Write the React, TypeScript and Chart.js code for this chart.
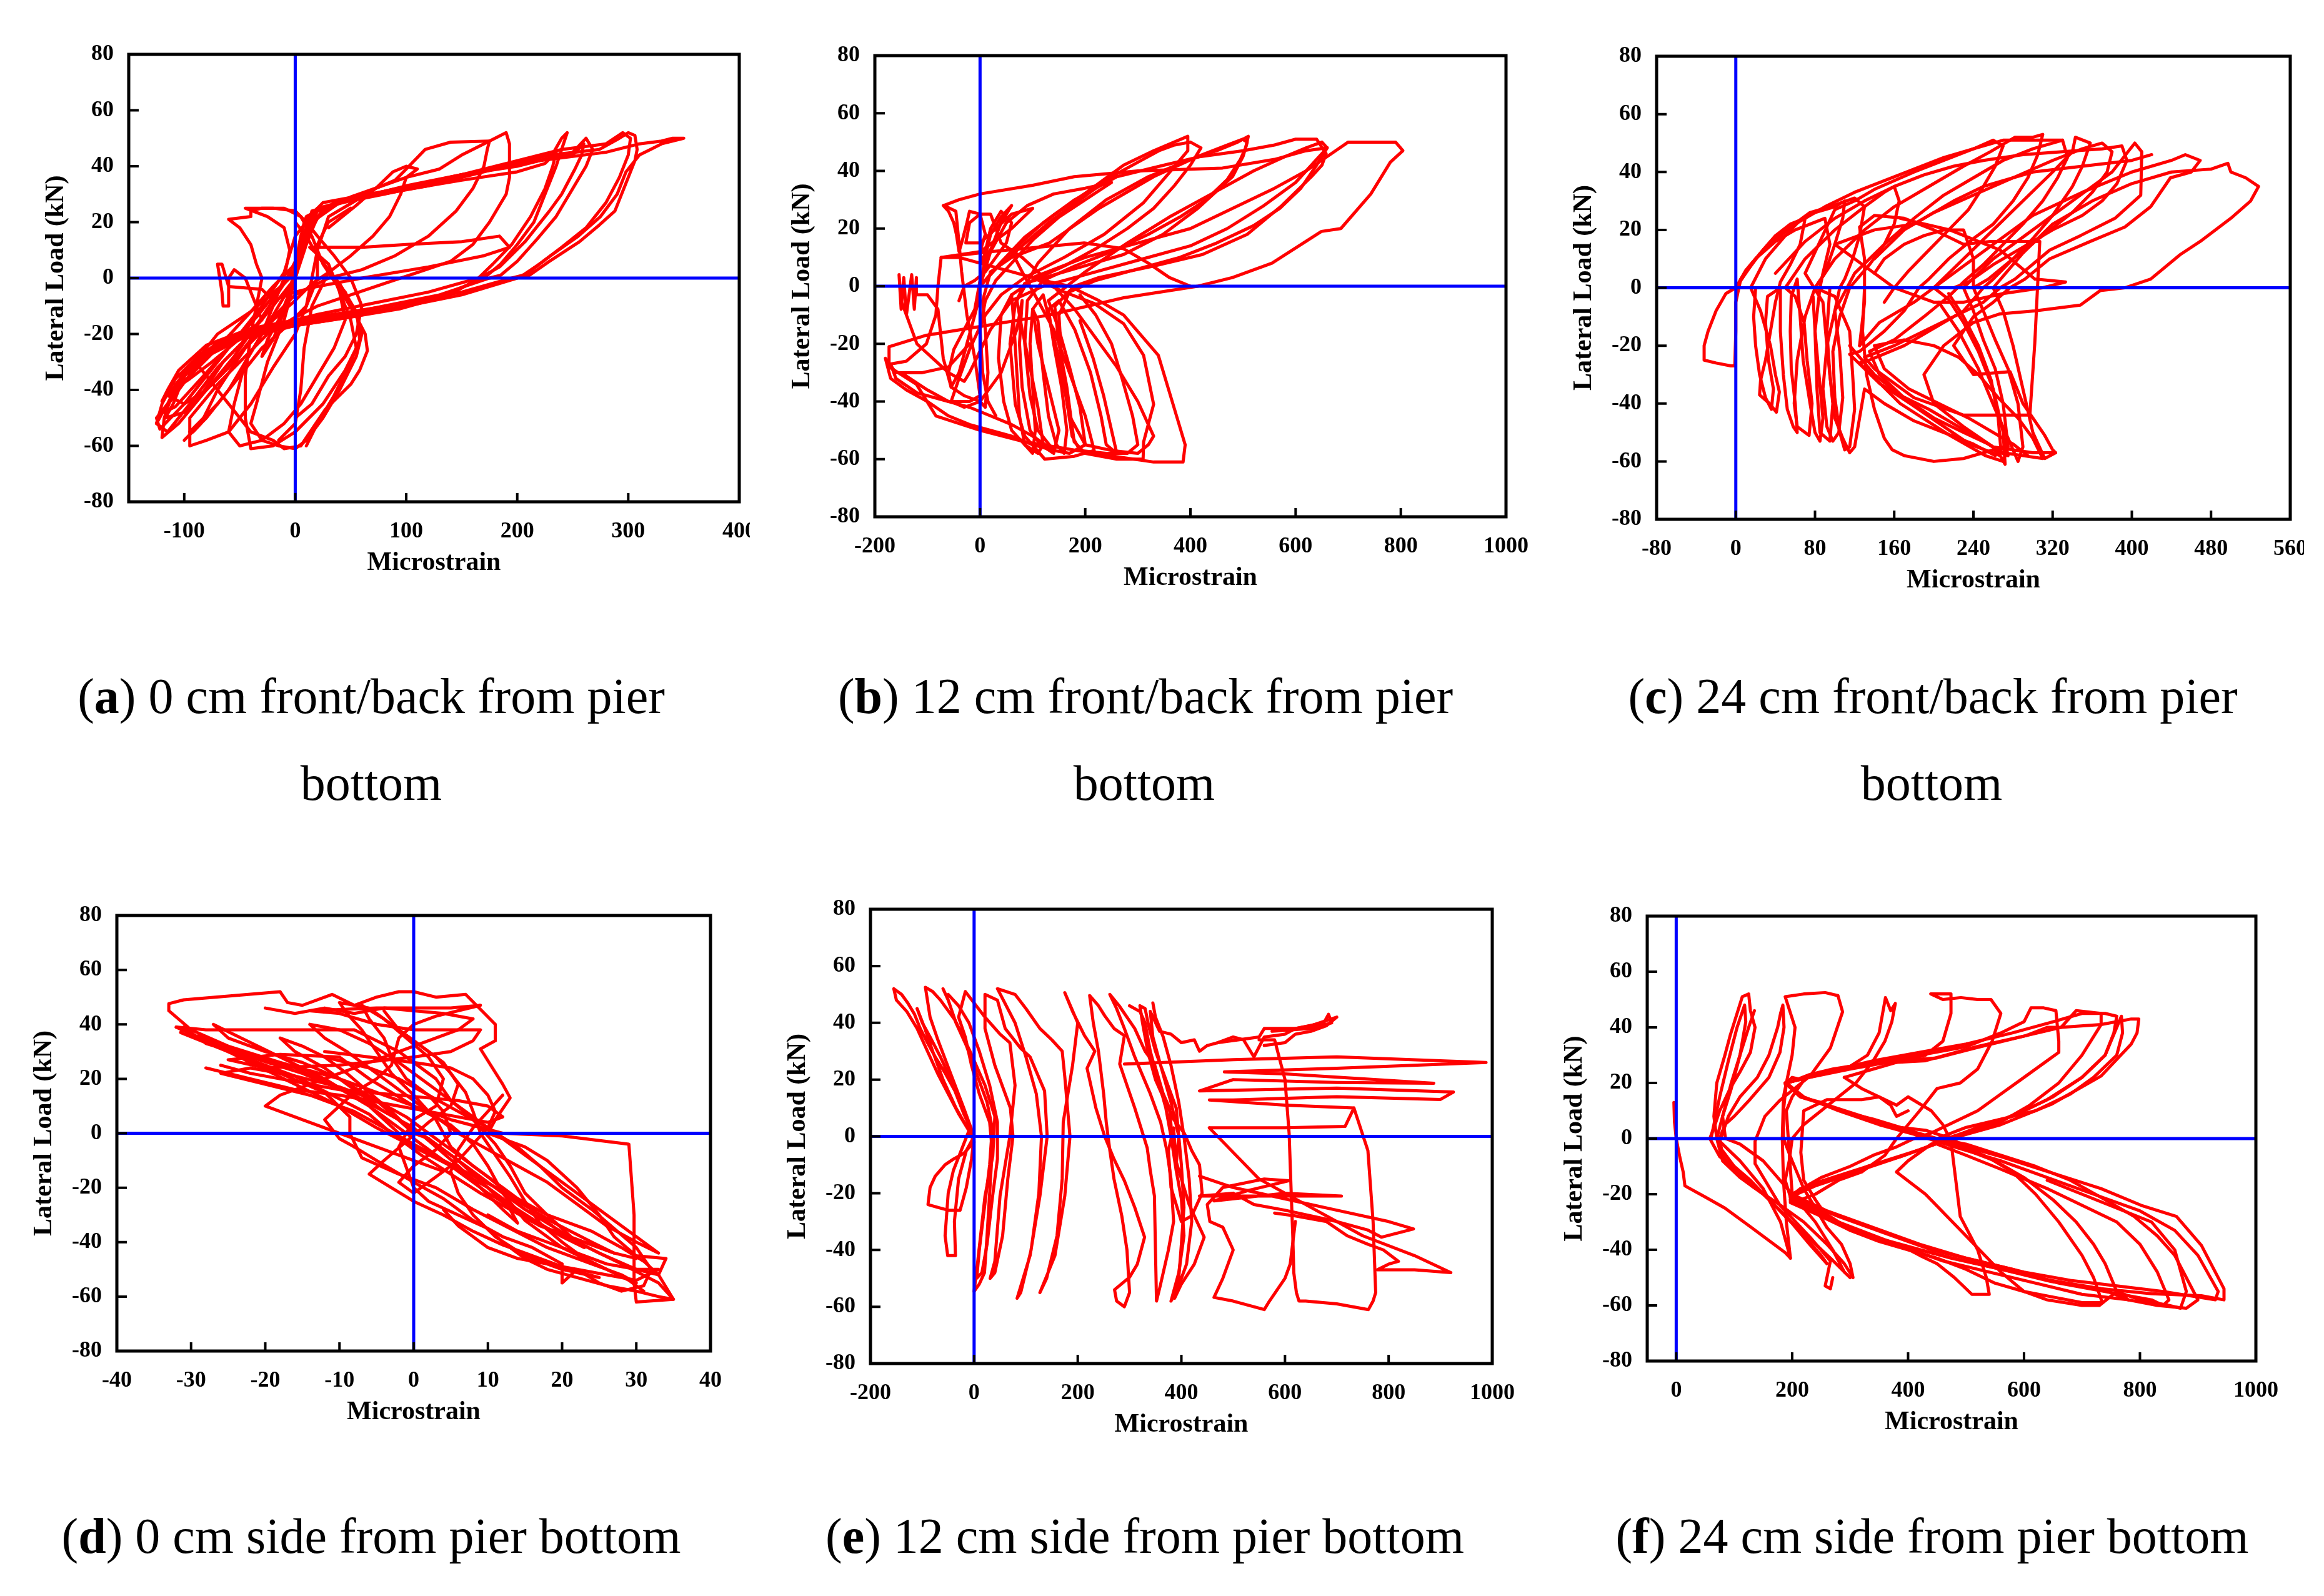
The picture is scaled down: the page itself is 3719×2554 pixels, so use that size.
import { useEffect, useRef } from "react";
import Chart from "chart.js/auto";

type Pt = [number, number];

const RED = "#FF0000";
const BLUE = "#0000FF";
const TICK_FONT = { family: "'Liberation Serif', 'Times New Roman', serif", size: 36, weight: "bold" as const };
const TITLE_FONT = { family: "'Liberation Serif', 'Times New Roman', serif", size: 42, weight: "bold" as const };

// tick labels
const Y_TICKS = [-80, -60, -40, -20, 0, 20, 40, 60, 80];
const X_TICKS_A = [-100, 0, 100, 200, 300, 400];
const X_TICKS_B = [-200, 0, 200, 400, 600, 800, 1000];
const X_TICKS_C = [-80, 0, 80, 160, 240, 320, 400, 480, 560];
const X_TICKS_D = [-40, -30, -20, -10, 0, 10, 20, 30, 40];
const X_TICKS_E = [-200, 0, 200, 400, 600, 800, 1000];
const X_TICKS_F = [0, 200, 400, 600, 800, 1000];

// (a) 0 cm front/back
const A_C1: Pt[] = [[0,0],[5,8],[10,15],[15,20],[20,24],[10,22],[5,15],[0,5],[-5,-5],[-15,-15],[-25,-22],[-30,-28],[-20,-22],[-10,-12],[0,0]];
const A_C2: Pt[] = [[0,0],[10,12],[20,22],[35,27],[60,30],[90,35],[100,39],[117,46],[140,48.6],[175,49],[173,46],[170,40],[160,32],[145,24],[120,15],[90,8],[60,3],[30,0],[0,-6],[-20,-14],[-40,-22],[-60,-32],[-80,-40],[-100,-45],[-115,-42],[-95,-35],[-70,-25],[-40,-12],[-20,-3],[0,5]];
const A_C3: Pt[] = [[0,5],[10,18],[20,24],[50,29],[100,36],[130,39],[150,44],[170,48],[190,52],[193,48],[193,36],[190,30],[175,20],[160,12],[140,6],[110,2],[80,-2],[50,-6],[20,-10],[0,-14],[-25,-20],[-50,-30],[-70,-38],[-95,-50],[-95,-60],[-80,-58],[-60,-55],[-40,-45],[-20,-32],[0,-20],[10,-10],[15,0],[20,10]];
const A_C4: Pt[] = [[20,10],[30,22],[60,29],[100,33],[150,37],[200,40],[230,43],[240,50],[245,52],[240,46],[235,40],[225,30],[215,20],[200,12],[185,5],[170,0],[140,-5],[100,-10],[50,-14],[0,-17],[-40,-20],[-85,-27],[-108,-36],[-120,-45],[-125,-52],[-115,-55],[-95,-45],[-70,-32],[-45,-22],[-20,-10],[0,0]];
const A_C5: Pt[] = [[0,0],[10,18],[30,26],[80,30],[150,36],[200,41],[250,44],[260,48],[258,44],[252,39],[240,30],[229,24],[207,13],[184,4],[166,0],[139,-6],[94,-11],[49,-14],[0,-17],[-41,-20],[-86,-28],[-108,-38],[-118,-50],[-120,-57],[-105,-52],[-80,-40],[-55,-28],[-30,-14],[-10,-2],[5,10]];
const A_C6: Pt[] = [[5,10],[15,24],[50,28],[120,33],[184,40],[230,44],[274,46],[292,50],[300,52],[306,51],[308,46],[306,42],[297,33],[288,24],[274,19],[256,13],[229,6],[211,1],[198,0],[150,-6],[100,-10],[50,-13],[0,-16],[-30,-19],[-70,-23],[-100,-33],[-115,-45],[-125,-50],[-122,-54],[-100,-45],[-60,-25],[-30,-10],[-10,2],[0,15],[20,25],[80,31],[150,37],[220,42],[280,45],[310,48],[330,49],[340,50],[350,50],[330,48],[320,46],[310,44],[298,38],[290,30],[275,22],[255,15],[230,8],[210,2],[200,0],[150,-6],[100,-10],[40,-14],[0,-17],[-50,-22],[-90,-30]];
const A_C7: Pt[] = [[-90,-30],[-60,-45],[-40,-55],[-20,-58],[-10,-61],[5,-60],[27,-47],[50,-38],[58,-33],[65,-26],[63,-20],[54,-13],[40,-4],[25,5],[15,15],[5,22],[-10,25],[-30,25],[-40,24],[-40,22],[-60,21],[-50,18],[-40,12],[-35,5],[-30,0],[-35,-10],[-40,-20],[-45,-35],[-45,-50],[-40,-61],[-20,-60],[0,-55],[25,-45],[45,-33],[55,-25],[50,-15],[40,-5],[30,5]];
const A_C8: Pt[] = [[30,5],[13,11],[60,11],[100,12],[150,13],[184,15],[193,11],[170,8],[120,4],[60,0],[20,-3],[0,-5],[-20,-8],[-30,-4],[-60,-3],[-66,5],[-70,5],[-66,-5],[-65,-10],[-60,-10],[-60,0],[-55,3],[-45,0],[-30,-15],[-60,-25],[-75,-30],[-95,-36],[-110,-40],[-116,-42],[-100,-35],[-70,-20],[-40,-12],[-10,-2],[0,2]];
const A_C9: Pt[] = [[0,0],[10,14],[25,25],[70,30],[130,35],[180,39],[220,42],[250,45],[262,50],[268,46],[262,40],[250,32],[235,22],[218,14],[200,6],[185,1],[175,0],[130,-6],[80,-10],[30,-14],[0,-16],[-35,-19],[-70,-24],[-95,-32],[-110,-42],[-118,-48],[-108,-46],[-85,-36],[-60,-25],[-35,-14],[-15,-4],[0,3]];
const A_C10: Pt[] = [[0,3],[8,20],[25,27],[80,31],[140,36],[200,42],[240,46],[280,48],[295,52],[302,50],[300,44],[292,36],[280,27],[262,18],[240,11],[220,5],[205,1],[195,0],[150,-5],[100,-9],[50,-12],[0,-15],[-40,-18],[-80,-24],[-105,-33],[-115,-40],[-120,-44],[-115,-40]];
const A_C11: Pt[] = [[30,18],[55,26],[75,33],[88,38],[100,40],[110,39],[100,36],[95,30],[85,22],[70,15],[50,8],[30,2],[15,-2],[0,-8],[-20,-15],[-45,-25],[-70,-40],[-85,-52],[-92,-55]];
const A_C12: Pt[] = [[-100,-58],[-80,-50],[-60,-40],[-45,-30],[-30,-20],[-15,-10],[0,0],[-10,-15],[-25,-30],[-35,-45],[-40,-52],[-30,-58],[-15,-60],[0,-61],[10,-58],[25,-50],[40,-40],[55,-28],[60,-20],[55,-12],[40,-2],[20,8],[10,15],[0,20]];
const A_C13: Pt[] = [[0,-50],[15,-45],[30,-35],[45,-28],[55,-20],[60,-10],[50,0],[35,8],[20,15],[10,20],[0,24],[-20,25],[-45,25],[-25,22],[-10,18],[-5,10],[-10,0],[-20,-10],[-30,-20],[-45,-30],[-55,-45],[-60,-55],[-50,-60],[-30,-58],[-10,-52],[5,-45],[20,-35],[35,-25],[45,-15],[40,-5]];
const A_C14: Pt[] = [[-125,-52],[-118,-47],[-105,-40],[-90,-32],[-70,-25],[-55,-21],[-40,-18],[-60,-22],[-80,-28],[-100,-35],[-110,-45],[-117,-50],[-100,-48],[-85,-42],[-65,-30],[-45,-22]];
const A_C15: Pt[] = [[0,0],[15,20],[40,27],[90,31],[150,35],[200,38],[225,41],[235,45],[232,40],[225,32],[212,22],[195,12],[178,5],[165,0],[120,-5],[70,-9],[20,-13],[-10,-16],[-50,-20],[-90,-28]];
const A_C16: Pt[] = [[-95,-55],[-70,-45],[-50,-35],[-30,-25],[-10,-18],[10,-10],[20,0],[20,12],[30,20],[50,25]];
const A_C17: Pt[] = [[10,-60],[20,-52],[35,-42],[50,-30],[58,-22],[56,-14],[45,-5],[30,2],[15,-10],[8,-25],[5,-40],[0,-52],[-15,-58]];

// (b) 12 cm front/back
const B_C1: Pt[] = [[0,0],[38,8],[85,17],[142,25],[198,32],[273,42],[330,47],[395,52],[395,47],[358,39],[311,29],[236,18],[160,10],[85,3],[40,-3],[10,-10],[-20,-22],[-40,-32],[-55,-40],[-30,-42],[0,-40],[10,-42],[15,-30],[10,-15],[5,-5],[20,5]];
const B_C2: Pt[] = [[20,5],[60,10],[132,15],[226,27],[330,38],[414,45],[470,49],[499,51],[508,50],[500,45],[480,38],[414,27],[348,18],[273,11],[179,6],[85,1],[67,-6],[57,-20],[67,-41],[85,-52],[123,-60],[179,-59],[217,-57],[200,-45],[170,-30],[140,-15],[110,-5],[80,5],[60,12]];
const B_C3: Pt[] = [[60,12],[120,22],[180,30],[260,38],[350,42],[420,45],[500,47],[560,49],[600,51],[640,51],[658,46],[650,42],[630,38],[574,28],[508,18],[423,11],[330,7],[226,3],[179,0],[142,-7],[150,-20],[165,-35],[179,-54],[200,-58],[260,-60],[310,-60],[311,-54],[330,-41],[311,-24],[273,-13],[217,-6],[160,-2],[100,3]];
const B_C4: Pt[] = [[100,3],[200,10],[300,15],[400,20],[480,27],[560,34],[620,40],[660,45],[700,50],[750,50],[790,50],[804,47],[780,43],[743,32],[686,20],[649,19],[555,8],[480,3],[414,0],[273,-4],[132,-10],[0,-14],[-102,-17],[-173,-21],[-173,-28],[-121,-34],[-84,-45],[0,-50],[85,-54],[217,-58],[330,-61],[386,-61],[390,-55],[367,-41],[339,-24],[273,-10],[226,-5],[170,0]];
const B_C5: Pt[] = [[170,0],[120,2],[60,5],[0,8],[-40,10],[-74,10],[-80,0],[-84,-10],[-102,-20],[-140,-26],[-170,-27],[-160,-32],[-120,-37],[-60,-40],[-20,-40],[0,-38],[-10,-25],[-25,-10],[-35,5],[-40,15],[-46,26],[-69,28],[-40,30],[0,32],[100,35],[179,38],[300,40],[461,41],[560,44],[620,47],[660,48]];
const B_C6: Pt[] = [[660,48],[640,44],[600,36],[540,28],[470,20],[400,14],[300,9],[200,4],[120,0],[60,-5],[20,-15],[-20,-30],[-30,-33],[-60,-30],[-90,-25],[-120,-20],[-140,-10],[-150,-5],[-154,4],[-150,-8],[-145,3],[-140,-10],[-130,4],[-125,-8],[-121,3],[-121,-3],[-100,-3],[-80,-8],[-70,-25],[-55,-35],[-30,-38],[0,-40]];
const B_C7: Pt[] = [[0,-40],[40,-30],[70,-15],[80,-5],[75,-20],[80,-35],[95,-50],[115,-55],[140,-58],[150,-50],[130,-35],[110,-20],[100,-8],[120,-3],[150,-25],[170,-45],[200,-55],[250,-57],[300,-58],[320,-55],[330,-52],[300,-40],[260,-28],[220,-18],[180,-8],[140,0],[80,10],[40,15],[20,25],[0,25],[-20,22],[-27,15],[0,15],[30,20],[60,25],[100,27]];
const B_C8: Pt[] = [[100,27],[60,20],[0,12],[-74,10],[20,12],[198,15],[273,13],[320,8],[360,3],[400,0]];
const B_C9: Pt[] = [[0,0],[30,6],[80,14],[130,22],[190,30],[250,38],[300,43],[340,47],[370,49],[400,50],[420,48],[400,42],[370,35],[330,27],[280,20],[220,13],[160,7],[100,2],[60,-3],[40,-10],[35,-25],[45,-40],[60,-50],[85,-55],[110,-58],[120,-55],[110,-42],[95,-28],[80,-15],[70,-5]];
const B_C10: Pt[] = [[70,-5],[110,8],[170,20],[240,30],[320,38],[400,44],[450,47],[490,50],[510,52],[505,48],[495,44],[470,37],[430,30],[380,24],[320,18],[250,12],[180,7],[120,2],[90,-5],[85,-20],[95,-38],[110,-50],[140,-57],[170,-58],[200,-55],[190,-42],[170,-28],[150,-15],[130,-5]];
const B_C11: Pt[] = [[130,-5],[200,5],[280,15],[360,24],[440,32],[520,40],[580,45],[620,48],[650,50],[660,48],[640,42],[610,34],[570,27],[520,21],[450,15],[380,10],[300,6],[220,2],[170,-2],[150,-10],[155,-25],[165,-40],[175,-52],[190,-57],[240,-58],[280,-58],[300,-55],[290,-45],[270,-32],[250,-20],[220,-10],[190,-3]];
const B_C12: Pt[] = [[0,0],[10,10],[20,18],[40,24],[60,28],[40,22],[25,15],[10,8],[0,2],[-10,-8],[-30,-15],[-50,-22],[-60,-30],[-55,-35],[-40,-30],[-25,-20],[-10,-10],[0,-3]];
const B_C13: Pt[] = [[60,-3],[65,-15],[70,-30],[75,-45],[85,-55],[100,-58],[105,-50],[100,-35],[95,-20],[100,-8],[110,-12],[120,-30],[130,-45],[145,-55],[160,-58],[165,-50],[155,-35],[140,-20],[130,-8],[150,-5],[180,-15],[210,-30],[230,-45],[240,-55],[260,-58],[250,-50],[235,-38],[215,-25],[190,-12]];
const B_C14: Pt[] = [[-20,-20],[-60,-28],[-110,-30],[-160,-30],[-180,-25],[-170,-32],[-140,-36],[-100,-40],[-60,-45],[-20,-48],[20,-50],[60,-52],[100,-55],[140,-57],[100,-52],[60,-48],[20,-45],[-20,-42],[-60,-40],[-100,-36],[-150,-30]];
const B_C15: Pt[] = [[-70,28],[-60,26],[-50,22],[-45,18],[-40,12],[-35,15],[-25,22],[-20,26],[0,25],[10,18],[0,12],[5,8],[20,20],[40,26],[60,22],[50,15],[30,10],[10,5],[-10,2],[-30,0],[-40,-5]];
const B_C16: Pt[] = [[0,0],[20,12],[50,22],[90,28],[140,32],[200,34],[250,36],[200,30],[150,24],[100,16],[60,8],[30,2],[10,-5],[0,-15],[5,-30],[15,-40],[30,-45]];

// (c) 24 cm front/back
const C_C1: Pt[] = [[0,0],[-10,-2],[-20,-8],[-28,-15],[-32,-20],[-32,-25],[-20,-26],[-5,-27],[-1,-27],[0,-15],[0,-5],[5,3],[14,7],[25,12],[40,18],[55,22],[70,24],[65,15],[55,8],[45,2],[40,-5],[35,-15],[30,-25],[25,-32],[24,-37],[34,-40],[41,-43],[44,-36],[40,-30],[35,-20],[25,-8],[15,0]];
const C_C2: Pt[] = [[15,0],[30,10],[50,18],[64,23],[80,26],[100,28],[110,30],[108,24],[100,15],[90,5],[80,0],[70,-10],[62,-25],[59,-40],[62,-48],[74,-51],[77,-40],[72,-25],[69,-12],[60,-3],[50,0]];
const C_C3: Pt[] = [[50,0],[70,10],[100,20],[130,28],[150,33],[160,35],[165,30],[160,22],[150,15],[135,8],[115,0],[105,-10],[98,-22],[100,-38],[105,-50],[110,-56],[115,-55],[120,-42],[118,-30],[115,-15],[100,-3],[80,0]];
const C_C4: Pt[] = [[80,0],[100,10],[130,20],[160,28],[200,36],[230,42],[257,47],[282,52],[300,52],[310,53],[305,46],[295,38],[280,30],[260,22],[240,17],[215,10],[195,3],[185,0],[170,-8],[150,-15],[125,-22],[115,-23],[145,-33],[176,-40],[206,-47],[236,-54],[267,-58],[272,-61],[270,-50],[260,-35],[245,-22],[230,-12],[215,-4],[200,0]];
const C_C5: Pt[] = [[200,0],[230,10],[260,20],[290,30],[320,40],[340,47],[343,52],[358,50],[350,42],[340,35],[320,25],[300,17],[280,10],[260,3],[250,0],[230,-8],[200,-14],[170,-20],[135,-25],[125,-26],[166,-40],[216,-51],[252,-58],[270,-60],[275,-55],[270,-40],[262,-28],[250,-18],[240,-8],[230,0]];
const C_C6: Pt[] = [[230,0],[260,10],[300,20],[340,30],[380,40],[403,50],[410,47],[409,32],[383,24],[348,18],[317,13],[282,3],[267,0],[250,-5],[220,-10],[190,-15],[160,-20],[130,-24],[140,-28],[180,-38],[230,-44],[297,-44],[302,-19],[307,16],[257,16],[230,15],[200,20],[170,24],[140,25],[125,21],[130,10],[130,-5],[125,-20]];
const C_C7: Pt[] = [[125,-20],[145,-12],[180,-5],[220,5],[260,15],[300,25],[350,33],[400,40],[440,44],[454,46],[469,44],[460,40],[439,38],[419,28],[393,21],[358,16],[317,10],[292,3],[277,0],[260,-5],[240,-10],[220,-20],[240,-30],[277,-29],[290,-40],[312,-51],[320,-56],[323,-57],[312,-59],[300,-50],[290,-35],[280,-20],[270,-8],[260,0]];
const C_C8: Pt[] = [[260,0],[290,12],[320,22],[360,30],[400,36],[440,40],[480,41],[497,43],[500,40],[515,38],[528,35],[520,30],[500,24],[469,16],[449,11.5],[419,3],[393,0],[368,-1],[348,-6],[302,-8],[267,-9],[240,-12],[210,-20],[190,-30],[200,-40],[230,-48],[260,-55],[300,-57],[323,-57]];
const C_C9: Pt[] = [[166,24],[216,20],[267,13],[302,3],[333,2],[310,0],[270,-2],[230,-5],[200,-5],[160,0],[140,5],[120,10],[100,15],[140,20],[180,22],[200,26],[220,30],[250,35],[300,40],[350,42],[400,44],[420,46]];
const C_C10: Pt[] = [[0,0],[20,10],[40,16],[60,20],[90,24],[95,15],[88,5],[85,0],[80,-15],[82,-35],[85,-50],[95,-53],[98,-40],[92,-20],[88,-5],[70,5],[100,27],[120,30],[140,34],[180,40],[210,44],[240,48],[270,51],[300,51],[330,51]];
const C_C11: Pt[] = [[0,0],[15,8],[35,16],[55,21],[75,26],[95,28],[120,31],[130,28],[125,18],[118,10],[110,3],[105,0],[100,-8],[92,-20],[88,-35],[92,-48],[98,-53],[104,-50],[108,-38],[105,-22],[100,-8]];
const C_C12: Pt[] = [[100,-8],[120,5],[150,15],[180,24],[210,32],[240,38],[270,44],[300,48],[330,51],[335,45],[325,38],[310,30],[290,22],[270,15],[250,8],[230,2],[215,-3],[190,-10],[160,-18],[135,-22],[145,-30],[170,-38],[200,-45],[230,-50],[255,-54],[268,-57],[265,-45],[258,-32],[245,-20],[230,-10],[215,-2]];
const C_C13: Pt[] = [[115,-20],[140,-30],[165,-37],[195,-42],[225,-48],[250,-53],[270,-57],[290,-58],[310,-59],[300,-52],[285,-45],[265,-38],[245,-30],[225,-24],[200,-20],[170,-18],[140,-20],[150,-28],[175,-35],[205,-40],[235,-45],[260,-50],[280,-54],[295,-58]];
const C_C14: Pt[] = [[20,0],[18,-10],[20,-20],[24,-30],[30,-38],[36,-42],[38,-35],[33,-25],[30,-12],[32,-3],[45,0],[45,-15],[48,-30],[52,-42],[58,-48],[62,-50],[60,-40],[56,-28],[55,-15],[56,-3],[62,3],[65,-10],[68,-25],[75,-40],[80,-50],[85,-53],[88,-45],[84,-30],[80,-15],[78,-3]];
const C_C15: Pt[] = [[0,0],[10,6],[30,14],[60,22],[90,28],[120,33],[150,37],[180,41],[210,45],[240,48],[260,51],[270,49],[262,42],[250,35],[235,27],[215,20],[195,13],[175,6],[160,0],[150,-5]];
const C_C16: Pt[] = [[40,5],[70,16],[100,24],[130,30],[160,35],[190,39],[220,42],[250,44],[290,46],[330,47],[370,48],[390,49],[395,44],[385,36],[370,30],[350,25],[320,20],[290,14],[260,8],[235,2],[220,0]];
const C_C17: Pt[] = [[205,-5],[225,-15],[245,-28],[262,-42],[275,-52],[285,-60],[290,-55],[285,-40],[275,-28],[262,-18],[250,-8],[240,0],[240,10],[230,20],[210,20],[190,18],[170,15],[150,10],[140,5]];
const C_C18: Pt[] = [[130,0],[128,-15],[132,-30],[140,-42],[150,-52],[158,-56],[170,-58],[200,-60],[230,-59],[260,-56],[275,-58],[270,-50]];
const C_C19: Pt[] = [[140,10],[170,20],[200,26],[240,32],[280,38],[320,44],[350,48],[370,50],[380,47],[375,40],[360,33],[340,26],[310,18],[280,10],[255,3],[240,0]];
const C_C20: Pt[] = [[95,0],[92,-15],[95,-30],[100,-45],[108,-52],[115,-57],[120,-55],[125,-45],[130,-35],[150,-40],[180,-46],[210,-50],[240,-54],[262,-58],[270,-55]];

// (d) 0 cm side
const D_C1: Pt[] = [[0,0],[-3,8],[-6,15],[-9,22],[-12,28],[-15,32],[-18,35],[-16,30],[-12,24],[-8,16],[-4,8],[0,2],[3,-5],[6,-12],[9,-20],[12,-28],[14,-33],[13,-28],[10,-20],[6,-10],[2,-2],[0,0]];
const D_C2: Pt[] = [[0,0],[-5,12],[-10,20],[-15,26],[-20,30],[-25,35],[-27,40],[-24,36],[-18,28],[-12,20],[-6,10],[-2,2],[2,-6],[6,-14],[10,-22],[15,-30],[20,-38],[23,-42],[21,-38],[15,-28],[10,-18],[5,-8],[2,-2]];
const D_C3: Pt[] = [[2,-2],[-2,5],[-8,14],[-15,22],[-22,28],[-28,33],[-31,39],[-31.4,37],[-25,30],[-18,22],[-12,15],[-8.6,6],[-8.6,0],[-7,-9],[-2,-15],[3,-20],[8,-28],[13,-35],[18,-42],[24,-48],[28,-52],[30,-55],[26,-50],[20,-42],[15,-32],[12,-22],[10,-12],[8,-4],[5,3]];
const D_C4: Pt[] = [[5,3],[0,10],[-5,15],[-10,20],[-18,26],[-25,32],[-30,38],[-33,45],[-33,47.6],[-31,49],[-18,52],[-17,48],[-15,47],[-11,51],[-8,47],[-5,50],[-2,52],[0,52],[3,50],[7,51],[11,40],[11,34],[9,31],[12,18],[13,13],[11,5],[10,0]];
const D_C5: Pt[] = [[10,0],[15,-5],[18,-10],[22,-20],[25,-30],[27,-38],[30,-45],[34,-46],[33,-52],[35,-61],[30,-62],[29.7,-55],[29.7,-30],[29,-4],[20,-1],[12,0],[5,5],[0,10],[-3,15],[-6,20],[-10,28]];
const D_C6: Pt[] = [[-10,28],[-18,29],[-25,27],[-20,24],[-10,25],[0,28],[5,30],[8,34],[9,38],[0,38],[-5,40],[-10,44],[-14,45],[-5,46],[5,46],[9,47],[3,43],[0,40],[-2,35],[-3,25],[-5,20],[-8,15],[-10,10],[-12,5],[-10,-2],[-8,-5]];
const D_C7: Pt[] = [[-8,-5],[-5,-10],[0,-18],[4,-24],[8,-32],[12,-38],[16,-42],[20,-48],[20,-55],[22,-50],[25,-55],[28,-58],[31,-56],[32,-50],[30,-42],[27,-35],[24,-28],[20,-20],[17,-12],[14,-5],[10,2],[6,8],[2,14],[-1,20],[-3,28],[-4,35],[-6,42],[-7,47]];
const D_C8: Pt[] = [[-7,47],[-4,42],[-1,35],[2,28],[4,20],[3,10],[0,5],[-2,-5],[0,-20],[2,-25],[6,-30],[10,-35],[12,-40],[15,-46],[18,-50],[22,-53],[26,-56],[30,-58],[33,-60],[35,-61],[33,-55],[28,-48],[22,-40],[18,-30],[15,-22],[13,-12],[11,-4],[8,5],[5,12],[3,20],[-2,30],[-8,38],[-20,38],[-28,38],[-32,39]];
const D_C9: Pt[] = [[-32,39],[-28,34],[-22,26],[-16,18],[-10,10],[-5,2],[0,-5],[5,-12],[10,-20],[14,-28],[18,-35],[23,-40],[27,-44],[30,-46]];
const D_C10: Pt[] = [[-2,0],[-6,10],[-11,18],[-16,24],[-21,28],[-26,32],[-29,36],[-27,33],[-22,27],[-16,21],[-11,14],[-6,7],[-3,0],[1,-8],[5,-15],[9,-22],[13,-28],[17,-34],[21,-38],[25,-42],[27,-44],[24,-40],[19,-33],[14,-25],[10,-16],[6,-8],[2,0]];
const D_C11: Pt[] = [[2,0],[-1,6],[-5,12],[-10,17],[-16,21],[-22,24],[-26,22],[-20,18],[-14,14],[-8,8],[-4,2],[0,-4],[4,-10],[9,-17],[14,-24],[18,-30],[24,-36],[28,-42],[31,-47],[33,-52],[30,-50],[25,-44],[20,-37],[16,-28],[12,-20],[8,-12],[5,-5]];
const D_C12: Pt[] = [[5,-5],[3,5],[0,14],[-3,22],[-5,30],[-7,38],[-9,44],[-10,48],[-6,46],[-3,40],[0,34],[3,28],[5,22],[7,15],[8,8],[9,0],[11,-8],[13,-16],[15,-25],[17,-33],[20,-40],[23,-46],[26,-50],[29,-54],[31,-58]];
const D_C13: Pt[] = [[-4,45],[-2,38],[1,32],[4,26],[6,18],[5,10],[2,4],[-1,-3],[-4,-10],[-6,-15],[-3,-20],[0,-25],[4,-30],[8,-36],[12,-41],[17,-46],[21,-50],[25,-53],[20,-50],[15,-45],[11,-38],[8,-30],[6,-22],[5,-14],[6,-6],[8,2],[10,8],[12,14]];
const D_C14: Pt[] = [[-14,40],[-12,35],[-9,30],[-6,24],[-3,18],[0,12],[3,6],[6,0],[10,-6],[14,-12],[18,-18],[22,-26],[26,-34],[30,-40],[33,-44],[30,-38],[26,-30],[22,-22],[18,-14],[14,-6],[10,2],[6,10],[2,18],[-2,26],[-6,33],[-10,38],[-14,40]];
const D_C15: Pt[] = [[-26,25],[-22,22],[-18,20],[-14,18],[-10,16],[-6,15],[-2,14],[2,13],[6,12],[10,10],[12,6],[10,4],[6,6],[2,8],[-2,10],[-6,12],[-10,14],[-16,16],[-22,20],[-28,24]];
const D_C16: Pt[] = [[-12,30],[-6,28],[0,26],[5,24],[8,20],[10,14],[11,8],[10,2],[8,-4],[6,-10],[3,-16],[0,-22],[-2,-18],[0,-12],[3,-6],[5,0],[4,8],[2,14],[-2,20],[-6,24],[-12,28]];
const D_C17: Pt[] = [[-20,46],[-16,44],[-12,46],[-8,44],[-4,46],[0,45],[4,44],[8,42],[6,38],[2,34],[-2,30],[-6,26],[-10,22],[-14,18],[-18,14],[-20,10],[-16,6],[-12,2],[-8,-2],[-4,-6],[0,-10],[4,-14]];
const D_C18: Pt[] = [[10,-30],[14,-36],[18,-40],[22,-44],[26,-48],[30,-50],[33,-50],[30,-54],[26,-52],[22,-50],[18,-48],[14,-46],[10,-42],[8,-38],[6,-34],[4,-28]];

// (e) 12 cm side
const E_C1: Pt[] = [[0,0],[-20,8],[-37,16],[-55,22],[-75,28],[-90,33],[-104,38],[-115,43],[-128,47],[-140,50],[-155,52],[-150,48],[-130,44],[-110,38],[-90,30],[-70,22],[-50,15],[-30,8],[-10,2],[0,-2],[-20,-6],[-40,-8],[-56,-10],[-75,-14],[-85,-18],[-89,-24],[-70,-25],[-50,-26],[-27,-26],[-15,-18],[-5,-8],[0,0],[-10,4],[-25,12],[-45,20],[-65,28],[-85,35],[-100,40],[-110,45],[-95,38],[-80,30],[-60,20],[-35,10],[-10,2],[-25,-5],[-40,-12],[-50,-20],[-56,-35],[-51,-42],[-36,-42],[-38,-30],[-30,-15],[-15,-5],[0,0]];
const E_C2: Pt[] = [[0,0],[-20,10],[-45,22],[-70,34],[-85,42],[-94,52.5],[-80,51],[-65,48],[-37,41],[-8,30],[21,18],[40,7],[36,-7],[21,-21],[7,-44],[0,-54.6],[10,-52],[20,-48],[25,-35],[30,-20],[35,-5],[30,5],[10,15],[-5,25],[-17,35],[-30,42],[-17,51],[0,47],[21,42],[50,36],[69,33],[79,18],[69,0],[50,-21],[40,-44],[31,-50],[40,-48],[55,-35],[65,-15],[75,0],[70,10],[40,25],[21,38],[21,50],[45,48],[60,38],[90,31],[108,28],[136,16],[141,0],[127,-21],[108,-42],[83,-57],[90,-55],[110,-40],[125,-20],[130,0],[120,15],[100,28],[79,40],[45,52],[79,50],[100,45],[127,38],[150,34],[170,30],[175,21],[185,0],[175,-21],[156,-42],[127,-55],[140,-50],[160,-35],[170,-15],[172,5]];
const E_C3: Pt[] = [[172,5],[190,25],[200,40],[175,50.6],[190,44],[213,35.5],[233,30],[218,24],[235,10],[252,0],[270,-8],[290,-15.6],[310,-25],[329,-35.5],[315,-45],[300,-49.6],[271,-54],[275,-58],[290,-60],[300,-55],[295,-40],[285,-28],[270,-15],[262,-5],[255,5],[250,15],[240,30],[230,40],[223,49.6],[240,46],[252,42.5],[270,38],[290,35.5],[281,25.5],[295,18],[310,10],[322,3],[334,-4],[340,-12],[348,-21],[350,-40],[352,-58],[360,-52],[375,-40],[385,-30],[380,-15],[372,-5],[360,5],[340,15],[310,28],[290,38],[275,45],[262,50],[280,46],[310,38],[330,30],[348,25.5],[365,15],[377,10],[382,0],[387,-7],[400,-15],[415,-24],[430,-30],[444,-35.5],[425,-45],[400,-52],[387,-57],[395,-50],[400,-38],[405,-25],[400,-10],[395,0],[390,10]];
const E_C4: Pt[] = [[390,10],[370,20],[350,30],[338,38],[330,45],[320,46],[325,40],[335,30],[338,28],[350,20],[367,13],[385,6],[406,1],[420,-5],[435,-10],[440,-20],[420,-28],[400,-30],[380,-18],[375,-5],[385,3],[390,-10],[395,0],[380,12],[360,25],[345,35],[340,44],[358,37],[380,36],[400,33],[425,34],[435,30],[450,32],[470,33],[550,35],[560,38],[620,38],[675,40],[684,43],[690,40],[650,38],[575,37]];
const E_C5: Pt[] = [[290,25.5],[500,27],[700,28],[988,26],[700,24],[483,22.7],[600,22],[887,18.7],[700,19],[500,20],[435,16],[700,17],[925,15.6],[900,13],[700,14],[500,12.8],[454,12.8],[600,11],[733,10],[716,3.5],[600,3],[454,3]];
const E_C6: Pt[] = [[550,34],[580,34],[600,20],[608,1],[612,-20],[615,-35],[617,-48],[622,-55],[627,-58],[640,-58],[700,-59],[761,-61],[770,-58],[775,-55],[770,-30],[760,-5],[733,10]];
const E_C7: Pt[] = [[454,3],[550,-15],[650,-25],[750,-35],[850,-42],[920,-48],[850,-47],[778,-47],[800,-45],[819,-44],[790,-40],[760,-38],[720,-35],[680,-30],[620,-28],[580,-27]];
const E_C8: Pt[] = [[435,-14],[500,-18],[600,-22],[700,-26],[800,-30],[848,-32.6],[786,-35.5],[760,-33],[700,-30],[650,-28],[600,-26],[540,-24],[500,-20],[435,-21],[600,-21],[709,-21],[600,-20],[463,-22.7],[530,-19],[608,-15.6],[560,-15],[480,-18],[450,-24],[455,-30],[480,-32],[500,-40],[480,-50],[463,-56.7],[500,-58],[560,-61],[570,-58],[600,-50],[610,-45],[620,-30]];
const E_C9: Pt[] = [[-60,52],[-50,48],[-35,40],[-15,32],[5,22],[25,12],[35,3],[30,-10],[20,-25],[10,-40],[5,-50],[15,-48],[25,-38],[35,-22],[45,-8],[45,5],[30,18],[10,30],[-10,40],[-30,46],[-50,50]];
const E_C10: Pt[] = [[300,46],[320,44],[330,40],[340,30],[355,20],[370,10],[380,0],[390,-12],[400,-22],[405,-35],[395,-48],[380,-58],[390,-55],[410,-45],[420,-30],[415,-15],[405,0],[395,12],[380,25],[365,35],[350,42],[345,47]];
const E_C11: Pt[] = [[470,33],[500,35],[520,34],[540,28],[560,35],[600,36],[620,38],[650,39],[700,42],[680,39],[650,37],[620,36],[600,33],[560,32]];

// (f) 24 cm side
const F_C1: Pt[] = [[-4,13],[-3,6],[0,0],[6,-6.5],[12,-12],[15,-17],[50,-21],[84,-25],[130,-32],[188,-41],[197,-43],[180,-30],[150,-18],[110,-8],[80,-2],[70,0],[65,8],[70,20],[84,30],[93,37],[105,45],[114,51],[125,52],[128,46],[136,40],[128,31],[110,24],[93,18],[75,10],[67,5],[58,0],[75,-6.5],[100,-10],[128,-15],[160,-22],[188,-28],[230,-36],[266,-43],[290,-48],[300,-50],[290,-48],[270,-40],[240,-30],[200,-20],[150,-8],[110,-2],[85,0],[80,8],[95,20],[110,30],[125,40],[135,46]];
const F_C2: Pt[] = [[75,-1],[90,8],[110,15],[140,22],[160,30],[175,40],[180,45],[184,48],[186,40],[182,35],[179,31],[160,22],[127,14],[100,8],[84,5],[75,0],[80,-6],[93,-10],[130,-17],[180,-24],[220,-30],[260,-38],[290,-45],[305,-50],[300,-45],[285,-38],[260,-32],[240,-25],[220,-18],[200,-8],[185,0],[185,10],[190,20],[200,30],[205,40],[188,51],[220,52],[257,52.5],[279,51.4],[287,45.6],[266,32.6],[231,22.5],[179,13.8],[153,8],[136,-1],[136,-9],[179,-24],[231,-35.5],[266,-44],[257,-53],[266,-54],[270,-50]];
const F_C3: Pt[] = [[188,19.6],[230,23],[270,25],[300,26],[330,30],[350,38],[361,50.7],[370,46],[378,48.6],[372,42],[360,35],[340,28],[310,20],[280,15],[250,10],[220,5],[200,0],[195,-8],[188,-15],[197,-21],[250,-26],[300,-32.6],[350,-36],[387,-38.4],[420,-42],[450,-45],[480,-50],[510,-56],[540,-56],[535,-50],[520,-40],[490,-28],[474,-1],[460,5],[440,10],[400,15],[380,12],[350,15],[320,18],[290,22]];
const F_C4: Pt[] = [[290,22],[340,25],[390,28],[430,30],[460,35],[474,45],[474,52],[439,52],[460,50],[491,50.7],[520,50],[543,50],[560,45],[545,35],[520,25],[490,20],[450,18],[420,10],[400,5],[380,0],[360,-6],[320,-12],[280,-15],[240,-20],[215,-22],[250,-28],[300,-33],[350,-37],[400,-40],[450,-43],[500,-47],[550,-52],[600,-55],[650,-57],[700,-59],[735,-59],[720,-50],[700,-42],[660,-30],[620,-20],[580,-12],[540,-7],[500,-3],[474,0]];
const F_C5: Pt[] = [[474,0],[430,3],[387,4],[340,7],[300,9],[260,12],[214,15],[188,20],[266,24],[344,27],[430,28],[517,33],[560,35],[603,37],[640,40],[664,40],[690,46],[733,45],[733,41],[700,30],[660,20],[610,12],[560,6],[500,2],[474,0],[420,-4],[387,-6.5],[330,-10],[283,-14],[240,-17],[197,-21],[300,-33],[387,-38],[474,-43],[560,-47],[647,-51],[733,-54],[780,-58],[760,-55],[740,-45],[720,-38],[690,-30],[650,-22],[600,-14],[550,-8],[500,-4],[450,0]];
const F_C6: Pt[] = [[450,0],[400,3],[350,6],[300,9],[250,13],[214,15],[188,20],[230,22],[300,25],[380,28],[450,29],[517,32.6],[603,37],[664,40],[733,41],[785,43],[798,43],[795,38],[785,34],[733,22.5],[647,12.3],[560,5],[474,0],[387,-6.5],[283,-13.8],[214,-18],[197,-21],[197,-23],[300,-32.6],[387,-38.4],[474,-42.8],[560,-47],[647,-51.4],[733,-54],[820,-55.8],[906,-56.5],[945,-58],[945,-54],[906,-38.4],[863,-28],[802,-24],[733,-18],[647,-12.3],[560,-6.5],[474,-1.4],[387,3.6],[300,9.4],[214,15.2],[188,20]];
const F_C7: Pt[] = [[188,20],[250,23],[330,27],[420,30],[500,33],[560,38],[600,42],[612,47],[634,47],[655,46],[660,35],[660,31],[640,28],[600,22],[560,16],[520,10],[480,6],[440,2],[410,0],[380,-3],[340,-6],[300,-10],[250,-14],[200,-20],[197,-22],[280,-30],[380,-38],[460,-44],[540,-48],[620,-52],[700,-56],[780,-58],[830,-60],[880,-61],[900,-58],[880,-50],[860,-42],[830,-35],[790,-28],[740,-22],[680,-15],[620,-10],[560,-6],[500,-2],[450,0]];
const F_C8: Pt[] = [[450,0],[500,4],[560,7],[620,10],[680,16],[720,22],[760,30],[770,38],[768,44],[760,40],[740,30],[700,22],[650,15],[600,10],[540,5],[480,1],[440,-2],[400,-8],[380,-12],[430,-20],[500,-35],[560,-48],[600,-55],[640,-58],[700,-60],[730,-60],[760,-55],[800,-58],[850,-60],[870,-61],[880,-55],[860,-40],[820,-30],[760,-25],[700,-20],[640,-15]];
const F_C9: Pt[] = [[197,-43],[190,-30],[185,-15],[183,0],[185,15],[190,20],[200,22],[220,21],[200,15],[190,10],[195,-5],[200,-20],[210,-22],[230,-25],[260,-28],[240,-22],[220,-15],[215,-5],[220,10],[260,14],[320,14],[350,15],[370,12],[380,8],[400,10]];
const F_C10: Pt[] = [[197,-21],[280,-28],[360,-34],[440,-40],[520,-44],[600,-48],[680,-51],[760,-53],[840,-55],[900,-57],[930,-58],[935,-55],[900,-42],[860,-33],[800,-26],[720,-20],[640,-14],[560,-8],[480,-3],[420,1],[350,5],[280,10],[220,15],[190,20]];
const F_C11: Pt[] = [[190,20],[260,24],[340,28],[420,31],[500,34],[580,38],[650,42],[700,45],[740,45],[760,44],[755,38],[740,30],[700,22],[640,14],[580,8],[520,4],[470,0],[420,-4],[360,-8],[300,-12],[240,-16],[200,-20],[260,-26],[340,-32],[420,-38],[500,-43],[580,-47],[660,-52],[740,-55],[820,-58],[840,-60],[850,-58],[830,-48],[800,-38],[760,-30],[700,-24],[640,-18],[560,-11],[500,-6],[450,-2]];
const F_C12: Pt[] = [[60,0],[75,15],[90,28],[105,40],[118,48],[120,42],[110,30],[95,18],[80,8],[70,0],[80,-8],[110,-14],[150,-20],[190,-28],[230,-38],[260,-45],[250,-42],[220,-35],[180,-26],[140,-18],[100,-10],[75,-3]];

interface PanelDef {
  loops: Pt[][];
  xMin: number;
  xMax: number;
  xTicks: number[];
  left: number;
  top: number;
  width: number;
  height: number;
  padRight: number;
}

const PANELS: PanelDef[] = [
  { loops: [A_C1, A_C2, A_C3, A_C4, A_C5, A_C6, A_C7, A_C8, A_C9, A_C10, A_C11, A_C12, A_C13, A_C14, A_C15, A_C16, A_C17], xMin: -150, xMax: 400, xTicks: X_TICKS_A, left: 206, top: 87, width: 977, height: 716, padRight: 17 },
  { loops: [B_C1, B_C2, B_C3, B_C4, B_C5, B_C6, B_C7, B_C8, B_C9, B_C10, B_C11, B_C12, B_C13, B_C14, B_C15, B_C16], xMin: -200, xMax: 1000, xTicks: X_TICKS_B, left: 1400, top: 89, width: 1010, height: 738, padRight: 60 },
  { loops: [C_C1, C_C2, C_C3, C_C4, C_C5, C_C6, C_C7, C_C8, C_C9, C_C10, C_C11, C_C12, C_C13, C_C14, C_C15, C_C16, C_C17, C_C18, C_C19, C_C20], xMin: -80, xMax: 560, xTicks: X_TICKS_C, left: 2651, top: 90, width: 1014, height: 741, padRight: 22 },
  { loops: [D_C1, D_C2, D_C3, D_C4, D_C5, D_C6, D_C7, D_C8, D_C9, D_C10, D_C11, D_C12, D_C13, D_C14, D_C15, D_C16, D_C17, D_C18], xMin: -40, xMax: 40, xTicks: X_TICKS_D, left: 187, top: 1465, width: 950, height: 697, padRight: 60 },
  { loops: [E_C1, E_C2, E_C3, E_C4, E_C5, E_C6, E_C7, E_C8, E_C9, E_C10, E_C11], xMin: -200, xMax: 1000, xTicks: X_TICKS_E, left: 1393, top: 1455, width: 995, height: 727, padRight: 60 },
  { loops: [F_C1, F_C2, F_C3, F_C4, F_C5, F_C6, F_C7, F_C8, F_C9, F_C10, F_C11, F_C12], xMin: -50, xMax: 1000, xTicks: X_TICKS_F, left: 2636, top: 1466, width: 974, height: 712, padRight: 60 },
];

const Y_AXIS_W = 145;
const X_AXIS_H = 127;
const PAD_TOP = 40;

const framePlugin = {
  id: "frame",
  afterDatasetsDraw(chart: any) {
    const { ctx, chartArea: a, scales } = chart;
    const xs = scales.x;
    const ys = scales.y;
    ctx.save();
    // zero lines
    ctx.strokeStyle = BLUE;
    ctx.lineWidth = 5;
    const x0 = xs.getPixelForValue(0);
    const y0 = ys.getPixelForValue(0);
    ctx.beginPath();
    ctx.moveTo(x0, a.top);
    ctx.lineTo(x0, a.bottom);
    ctx.moveTo(a.left, y0);
    ctx.lineTo(a.right, y0);
    ctx.stroke();
    // inward ticks
    ctx.strokeStyle = "#000";
    ctx.lineWidth = 4;
    ctx.beginPath();
    xs.ticks.forEach((t: any) => {
      const px = xs.getPixelForValue(t.value);
      ctx.moveTo(px, a.bottom);
      ctx.lineTo(px, a.bottom - 14);
    });
    ys.ticks.forEach((t: any) => {
      const py = ys.getPixelForValue(t.value);
      ctx.moveTo(a.left, py);
      ctx.lineTo(a.left + 16, py);
    });
    ctx.stroke();
    // box
    ctx.lineWidth = 5;
    ctx.strokeRect(a.left, a.top, a.right - a.left, a.bottom - a.top);
    ctx.restore();
  },
};

function Panel({ def }: { def: PanelDef }) {
  const ref = useRef<HTMLCanvasElement>(null);
  const w = Y_AXIS_W + def.width + def.padRight;
  const h = PAD_TOP + def.height + X_AXIS_H;

  useEffect(() => {
    if (!ref.current) return;
    const chart = new Chart(ref.current, {
      type: "scatter",
      data: {
        datasets: def.loops.map((loop) => ({
          data: loop.map(([x, y]) => ({ x, y })),
          showLine: true,
          borderColor: RED,
          backgroundColor: RED,
          borderWidth: 5,
          borderJoinStyle: "round" as const,
          borderCapStyle: "round" as const,
          pointRadius: 0,
          tension: 0,
          fill: false,
        })),
      },
      options: {
        animation: false,
        responsive: false,
        devicePixelRatio: 1,
        events: [],
        layout: { padding: { top: PAD_TOP, right: def.padRight, bottom: 0, left: 0 } },
        plugins: { legend: { display: false }, tooltip: { enabled: false } },
        scales: {
          x: {
            type: "linear",
            min: def.xMin,
            max: def.xMax,
            afterBuildTicks: (s: any) => {
              s.ticks = def.xTicks.map((v) => ({ value: v }));
            },
            afterFit: (s: any) => {
              s.height = X_AXIS_H;
              s.paddingLeft = 0;
              s.paddingRight = 0;
            },
            grid: { display: false },
            border: { display: false },
            ticks: { font: TICK_FONT, color: "#000", padding: 18, maxRotation: 0, minRotation: 0, autoSkip: false, callback: (v: any) => String(v) },
            title: { display: true, text: "Microstrain", font: TITLE_FONT, color: "#000", padding: { top: 0, bottom: 4 } },
          },
          y: {
            type: "linear",
            min: -80,
            max: 80,
            afterBuildTicks: (s: any) => {
              s.ticks = Y_TICKS.map((v) => ({ value: v }));
            },
            afterFit: (s: any) => {
              s.width = Y_AXIS_W;
              s.paddingTop = 0;
              s.paddingBottom = 0;
            },
            grid: { display: false },
            border: { display: false },
            ticks: { font: TICK_FONT, color: "#000", padding: 16, autoSkip: false, callback: (v: any) => String(v) },
            title: { display: true, text: "Lateral Load (kN)", font: TITLE_FONT, color: "#000", padding: { top: 4, bottom: 0 } },
          },
        },
      },
      plugins: [framePlugin],
    });
    return () => chart.destroy();
  }, [def]);

  return (
    <canvas
      ref={ref}
      width={w}
      height={h}
      style={{ position: "absolute", left: def.left - Y_AXIS_W, top: def.top - PAD_TOP, width: w, height: h }}
    />
  );
}

const CAPTION_STYLE: React.CSSProperties = {
  position: "absolute",
  width: 1200,
  textAlign: "center",
  fontFamily: "'Liberation Serif', 'Times New Roman', serif",
  fontSize: 80,
  lineHeight: "80px",
  color: "#000",
  whiteSpace: "nowrap",
};

function Caption({ cx, top, letter, text }: { cx: number; top: number; letter: string; text: string }) {
  return (
    <div style={{ ...CAPTION_STYLE, left: cx - 600, top }}>
      (<b>{letter}</b>) {text}
    </div>
  );
}

export default function App() {
  return (
    <div style={{ position: "absolute", left: 0, top: 0, width: 3719, height: 2554, background: "#fff", overflow: "hidden" }}>
      {PANELS.map((p, i) => (
        <Panel key={i} def={p} />
      ))}
      <Caption cx={594} top={1074} letter="a" text="0 cm front/back from pier" />
      <div style={{ ...CAPTION_STYLE, left: 594 - 600, top: 1213 }}>bottom</div>
      <Caption cx={1833} top={1074} letter="b" text="12 cm front/back from pier" />
      <div style={{ ...CAPTION_STYLE, left: 1831 - 600, top: 1213 }}>bottom</div>
      <Caption cx={3093} top={1074} letter="c" text="24 cm front/back from pier" />
      <div style={{ ...CAPTION_STYLE, left: 3091 - 600, top: 1213 }}>bottom</div>
      <Caption cx={594} top={2418} letter="d" text="0 cm side from pier bottom" />
      <Caption cx={1832} top={2418} letter="e" text="12 cm side from pier bottom" />
      <Caption cx={3092} top={2418} letter="f" text="24 cm side from pier bottom" />
    </div>
  );
}
